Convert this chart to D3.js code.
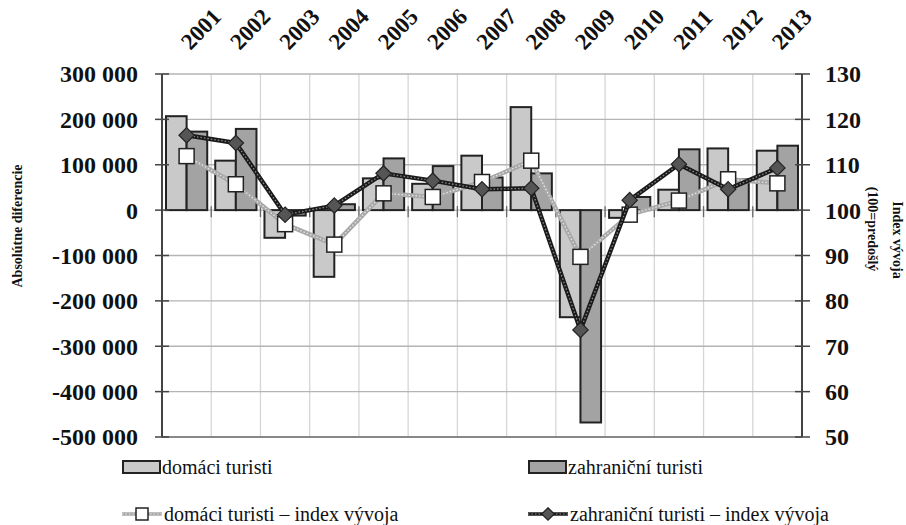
<!DOCTYPE html>
<html>
<head>
<meta charset="utf-8">
<script src="https://cdn.jsdelivr.net/npm/d3@7"></script>
</head>
<body style="margin:0; background:#fff">
<svg id="chart" width="906" height="525"></svg>
<script>
// data
const years = ['2001','2002','2003','2004','2005','2006','2007','2008','2009','2010','2011','2012','2013'];
const domaciDiff = [207000, 109000, -61000, -147000, 70000, 58000, 120000, 227000, -236000, -17000, 45000, 136000, 131000];
const zahranicniDiff = [173000, 179000, -12000, 13000, 114000, 97000, 72000, 81000, -468000, 29000, 134000, 68000, 142000];
const domaciIndex = [111.9, 105.7, 96.9, 92.4, 103.7, 102.9, 106.2, 110.9, 89.7, 99.0, 102.1, 106.8, 105.9];
const zahranicniIndex = [116.5, 114.8, 99.0, 101.0, 108.1, 106.5, 104.6, 104.8, 73.6, 102.2, 110.1, 104.6, 109.3];
const leftTicks = [300000, 200000, 100000, 0, -100000, -200000, -300000, -400000, -500000];
const rightTicks = [130, 120, 110, 100, 90, 80, 70, 60, 50];

const FONT = "'Liberation Serif'";
const margin = {left: 162, right: 104, top: 74, bottom: 88};
const W = 906, H = 525;
const x0 = margin.left, x1 = W - margin.right;
const y0 = margin.top, y1 = H - margin.bottom;

const svg = d3.select('#chart');

const x = d3.scaleBand().domain(years).range([x0, x1]).padding(0);
const xs = d3.scaleBand().domain(['d', 'z']).range([4, x.bandwidth() - 4]).padding(0);
const yL = d3.scaleLinear().domain([-500000, 300000]).range([y1, y0]);
const yR = d3.scaleLinear().domain([50, 130]).range([y1, y0]);

const fmt = v => d3.format(',')(v).replace(/,/g, ' ').replace('−', '-');

// gridlines
const grid = svg.append('g');
grid.selectAll('.vg').data(years.slice(1)).join('line')
  .attr('x1', d => x(d)).attr('x2', d => x(d))
  .attr('y1', y0).attr('y2', y1)
  .attr('stroke', '#d6d6d6').attr('stroke-width', 1.3);
grid.selectAll('.hg').data(leftTicks).join('line')
  .attr('x1', x0).attr('x2', x1)
  .attr('y1', d => yL(d)).attr('y2', d => yL(d))
  .attr('stroke', '#b4b4b4').attr('stroke-width', 1.3);
svg.append('line').attr('x1', x0).attr('x2', x1).attr('y1', y1).attr('y2', y1)
  .attr('stroke', '#888').attr('stroke-width', 2);

// bars
const bars = svg.append('g');
const series = [
  {key: 'd', vals: domaciDiff, fill: '#c9c9c9'},
  {key: 'z', vals: zahranicniDiff, fill: '#a3a3a3'}
];
series.forEach(s => {
  bars.selectAll('.b' + s.key).data(years).join('rect')
    .attr('x', (d) => x(d) + xs(s.key))
    .attr('width', xs.bandwidth())
    .attr('y', (d, i) => yL(Math.max(0, s.vals[i])))
    .attr('height', (d, i) => Math.abs(yL(s.vals[i]) - yL(0)))
    .attr('fill', s.fill).attr('stroke', '#222').attr('stroke-width', 2);
});

// category ticks on the zero line
svg.append('g').selectAll('line').data(years.slice(1)).join('line')
  .attr('x1', d => x(d)).attr('x2', d => x(d))
  .attr('y1', yL(0) - 4).attr('y2', yL(0) + 7)
  .attr('stroke', '#666').attr('stroke-width', 1.3);

// axes lines + cross ticks
svg.append('line').attr('x1', x0).attr('x2', x0).attr('y1', y0).attr('y2', y1)
  .attr('stroke', '#444').attr('stroke-width', 2);
svg.append('line').attr('x1', x1).attr('x2', x1).attr('y1', y0).attr('y2', y1)
  .attr('stroke', '#444').attr('stroke-width', 2);
svg.append('g').selectAll('line').data(leftTicks).join('line')
  .attr('x1', x0 - 7).attr('x2', x0 + 7)
  .attr('y1', d => yL(d)).attr('y2', d => yL(d))
  .attr('stroke', '#444').attr('stroke-width', 1.5);
svg.append('g').selectAll('line').data(rightTicks).join('line')
  .attr('x1', x1 - 7).attr('x2', x1 + 8)
  .attr('y1', d => yR(d)).attr('y2', d => yR(d))
  .attr('stroke', '#444').attr('stroke-width', 1.5);

// tick labels
svg.append('g').selectAll('text').data(leftTicks).join('text')
  .attr('x', 138).attr('y', d => yL(d)).attr('dy', '0.35em')
  .attr('text-anchor', 'end')
  .attr('font-weight', 'bold').attr('font-size', 24)
  .text(fmt);
svg.append('g').selectAll('text').data(rightTicks).join('text')
  .attr('x', 825).attr('y', d => yR(d)).attr('dy', '0.35em')
  .attr('font-weight', 'bold').attr('font-size', 24)
  .text(d => d);

// year labels, rotated
svg.append('g').selectAll('text').data(years).join('text')
  .attr('transform', d => `translate(${x(d) + x.bandwidth() / 2 + 4},${51}) rotate(-46)`)
  .attr('font-weight', 'bold').attr('font-size', 23)
  .text(d => d);

// axis titles
const titleData = [
  {t: 'Absolútne diferencie', tr: 'translate(22,226) rotate(-90)'},
  {t: 'Index vývoja', tr: 'translate(893,240) rotate(90)'},
  {t: '(100=predošlý', tr: 'translate(868,229) rotate(90)'}
];
svg.append('g').selectAll('text').data(titleData).join('text')
  .attr('transform', d => d.tr)
  .attr('text-anchor', 'middle')
  .attr('font-weight', 'bold').attr('font-size', 14)
  .text(d => d.t);

// index lines
const cx = d => x(d) + x.bandwidth() / 2;
function drawLine(vals, base, dot, w) {
  const line = d3.line().x((d, i) => cx(years[i])).y(d => yR(d));
  svg.append('path').datum(vals).attr('d', line)
    .attr('fill', 'none').attr('stroke', base).attr('stroke-width', w).attr('stroke-linejoin', 'round');
  svg.append('path').datum(vals).attr('d', line)
    .attr('fill', 'none').attr('stroke', dot).attr('stroke-width', 1.3)
    .attr('stroke-dasharray', '1.5,2');
}
drawLine(domaciIndex, '#a8a8a8', '#e6e6e6', 4.5);
svg.append('g').selectAll('rect').data(domaciIndex).join('rect')
  .attr('x', (d, i) => cx(years[i]) - 7.5).attr('y', d => yR(d) - 7.5)
  .attr('width', 15).attr('height', 15)
  .attr('fill', '#fff').attr('stroke', '#222').attr('stroke-width', 1.5);

drawLine(zahranicniIndex, '#1a1a1a', '#8a8a8a', 4.5);
const diamond = d3.symbol().type(d3.symbolDiamond2).size(150);
svg.append('g').selectAll('path').data(zahranicniIndex).join('path')
  .attr('d', diamond)
  .attr('transform', (d, i) => `translate(${cx(years[i])},${yR(d)})`)
  .attr('fill', '#555').attr('stroke', '#222').attr('stroke-width', 1.2);

// legend
const lg = svg.append('g');
const legendItems = [
  {label: 'domáci turisti', type: 'bar', fill: '#c9c9c9', x: 122, y: 467},
  {label: 'zahraniční turisti', type: 'bar', fill: '#a3a3a3', x: 528, y: 467},
  {label: 'domáci turisti – index vývoja', type: 'sq', x: 122, y: 514},
  {label: 'zahraniční turisti – index vývoja', type: 'dia', x: 528, y: 514}
];
legendItems.forEach(it => {
  const g = lg.append('g').attr('transform', `translate(${it.x},${it.y})`);
  let tx = 40;
  if (it.type === 'bar') {
    g.append('rect').attr('x', 1).attr('y', -6).attr('width', 37).attr('height', 12)
      .attr('fill', it.fill).attr('stroke', '#222').attr('stroke-width', 2);
  } else {
    const base = it.type === 'sq' ? '#a8a8a8' : '#1a1a1a';
    const dot = it.type === 'sq' ? '#e6e6e6' : '#8a8a8a';
    g.append('line').attr('x1', 0).attr('x2', 40).attr('stroke', base).attr('stroke-width', 3.5);
    g.append('line').attr('x1', 0).attr('x2', 40).attr('stroke', dot).attr('stroke-width', 1.2).attr('stroke-dasharray', '1.5,2');
    if (it.type === 'sq') {
      g.append('rect').attr('x', 14).attr('y', -6).attr('width', 12).attr('height', 12)
        .attr('fill', '#fff').attr('stroke', '#222').attr('stroke-width', 1.5);
    } else {
      g.append('path').attr('d', d3.symbol().type(d3.symbolDiamond2).size(100)).attr('transform', 'translate(20,0)')
        .attr('fill', '#555').attr('stroke', '#222').attr('stroke-width', 1.2);
    }
    tx = 42;
  }
  g.append('text').attr('x', tx).attr('y', 0).attr('dy', '0.33em')
    .attr('font-size', 20)
    .text(it.label);
});

// serif on every text element directly
svg.selectAll('text').attr('font-family', FONT).attr('fill', '#111');
</script>
</body>
</html>
